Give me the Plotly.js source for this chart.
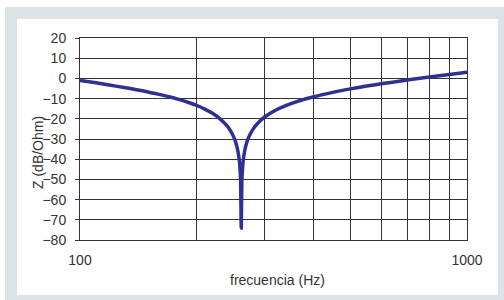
<!DOCTYPE html>
<html>
<head>
<meta charset="utf-8">
<script src="https://cdn.plot.ly/plotly-3.0.1.min.js"></script>
<style>html,body{margin:0;padding:0;background:#fff}#chart{width:504px;height:300px}</style>
</head>
<body>
<div id="chart"></div>
<script>
// Frequency (Hz) and impedance (dB/Ohm)
const freqHz = [100,110,120,130,140,150,160,170,180,190,200,210,220,230,240,245,250,253,256,258,259,260,261,262,263,265,268,272,280,290,300,320,340,360,380,400,450,500,550,600,700,800,900,1000];
const zDb = [-1.0,-2.2,-3.4,-4.5,-5.6,-6.7,-7.9,-9.1,-10.4,-11.8,-13.4,-15.2,-17.3,-20.0,-23.5,-26.0,-29.3,-32.1,-36.2,-40.6,-44.2,-50.2,-74.0,-50.7,-44.5,-38.5,-33.6,-29.7,-25.1,-21.6,-19.1,-15.8,-13.5,-11.7,-10.3,-9.2,-6.9,-5.2,-3.8,-2.7,-0.8,0.7,1.9,3.1];
const xGridVals = [100,200,300,400,500,600,700,800,900,1000];
const xTickText = ['100','','','','','','','','','1000'];
const yTickVals = [-80,-70,-60,-50,-40,-30,-20,-10,0,10,20];
const xTitle = 'frecuencia (Hz)';
const yTitle = 'Z (dB/Ohm)';

const L = 80, R = 37, T = 38, B = 60, W = 504, H = 300;
const pw = W - L - R, ph = H - T - B;
const px = v => (v - L) / pw;
const py = v => (H - B - v) / ph;

const trace = {
  x: freqHz, y: zDb, type: 'scatter', mode: 'lines',
  line: {color: '#2e3192', width: 3.5, shape: 'spline', smoothing: 0.6},
  hoverinfo: 'none'
};

const layout = {
  width: W, height: H,
  margin: {l: L, r: R, t: T, b: B, pad: 0},
  paper_bgcolor: '#ffffff',
  plot_bgcolor: '#ffffff',
  showlegend: false,
  font: {family: 'Liberation Sans, Arial, sans-serif', size: 14, color: '#333333'},
  shapes: [
    {type: 'rect', xref: 'paper', yref: 'paper', x0: px(5), x1: px(504), y0: py(7), y1: py(300), fillcolor: '#dce3e7', line: {width: 0}, layer: 'below'},
    {type: 'rect', xref: 'paper', yref: 'paper', x0: px(17), x1: px(498), y0: py(19), y1: py(295), fillcolor: '#ffffff', line: {width: 0}, layer: 'below'}
  ],
  annotations: [
    {text: xTitle, xref: 'paper', yref: 'paper', x: px(277), y: py(280), xanchor: 'center', yanchor: 'middle', showarrow: false, font: {size: 14, color: '#333333'}},
    {text: yTitle, xref: 'paper', yref: 'paper', x: px(38), y: py(153), xanchor: 'center', yanchor: 'middle', textangle: -90, showarrow: false, font: {size: 14, color: '#333333'}}
  ],
  xaxis: {
    type: 'log', range: [2, 3],
    tickmode: 'array', tickvals: xGridVals, ticktext: xTickText,
    showgrid: true, gridcolor: '#333333', gridwidth: 1,
    showline: true, linecolor: '#333333', linewidth: 1, mirror: true,
    ticks: 'outside', ticklen: 7, tickcolor: 'rgba(0,0,0,0)',
    zeroline: false
  },
  yaxis: {
    range: [-80, 20],
    tickmode: 'array', tickvals: yTickVals,
    showgrid: true, gridcolor: '#333333', gridwidth: 1,
    showline: true, linecolor: '#333333', linewidth: 1, mirror: true,
    ticks: 'outside', ticklen: 4, tickcolor: '#333333',
    ticklabelstandoff: 6,
    zeroline: false
  }
};

Plotly.newPlot('chart', [trace], layout, {staticPlot: true, displayModeBar: false});
</script>
</body>
</html>
